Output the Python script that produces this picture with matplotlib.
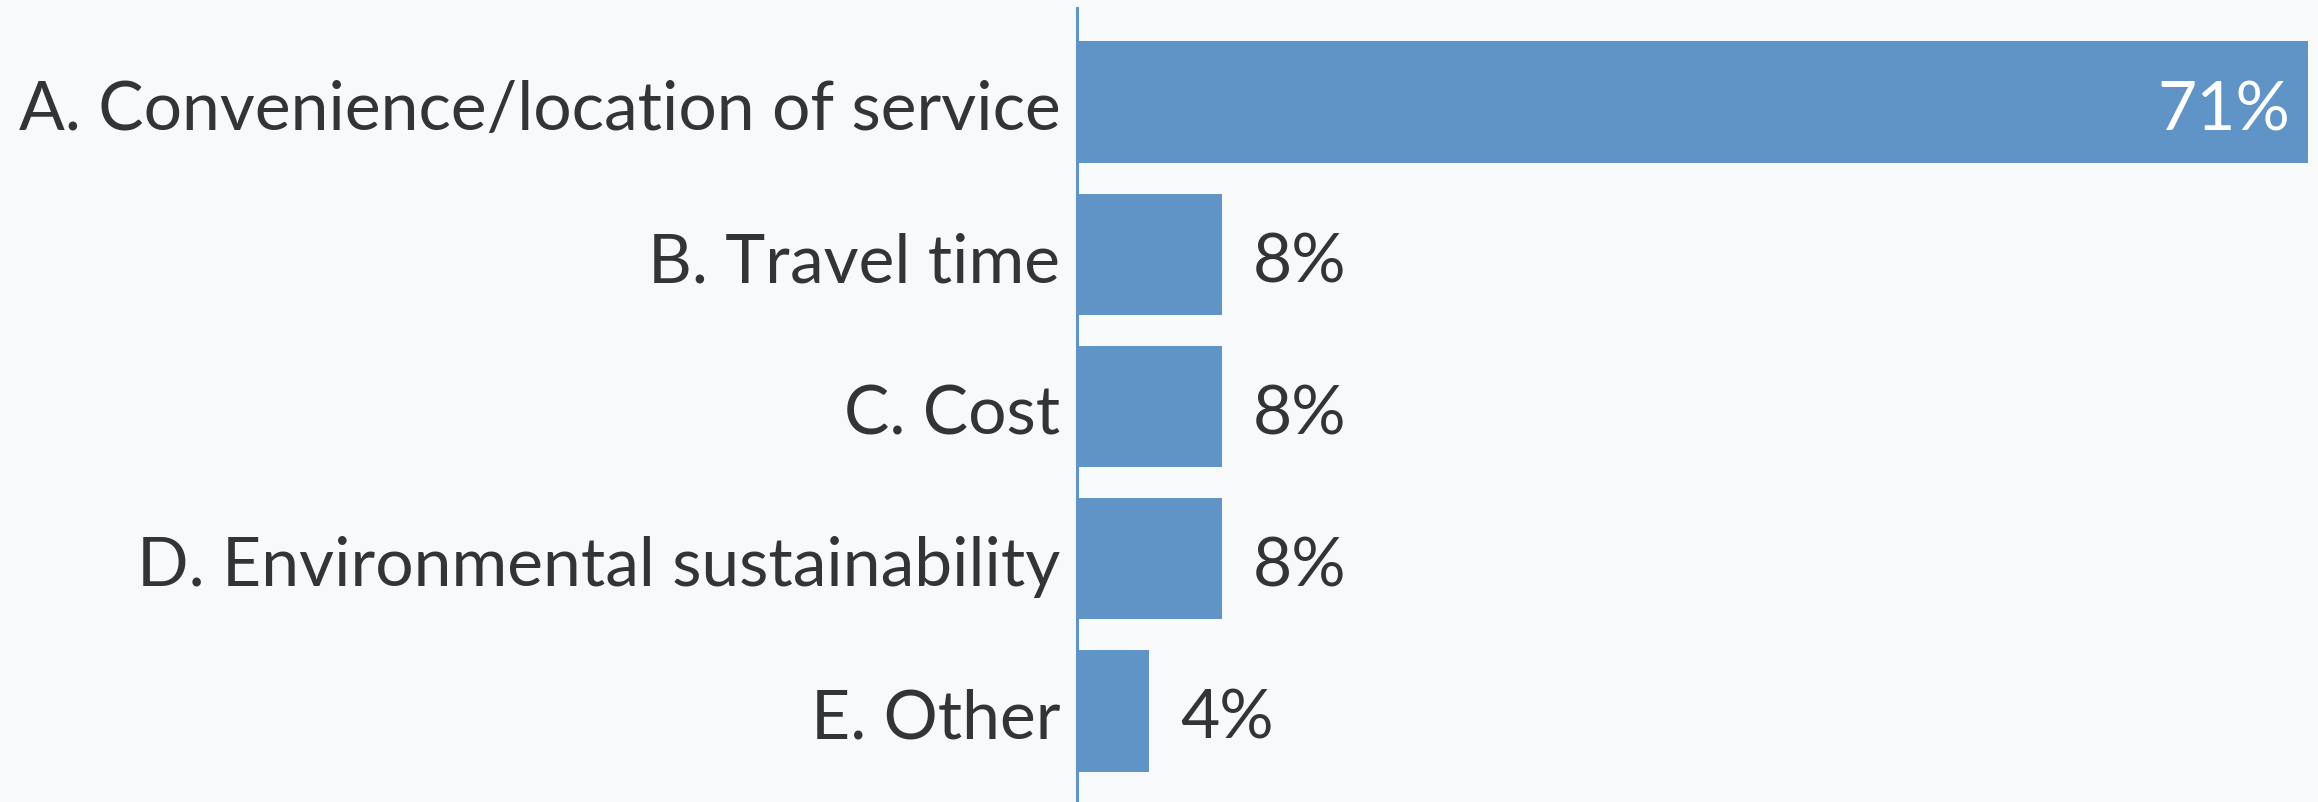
import matplotlib
matplotlib.use('Agg')
import matplotlib.pyplot as plt
import matplotlib.transforms as mtransforms

categories = ['A. Convenience/location of service', 'B. Travel time', 'C. Cost',
              'D. Environmental sustainability', 'E. Other']
counts = [17, 2, 2, 2, 1]
total = sum(counts)
shares = [100 * c / total for c in counts]
value_labels = ['71%', '8%', '8%', '8%', '4%']

bg = '#f8f9fb'
bar_color = '#6094c6'
text_color = '#333438'

plt.rcParams['font.family'] = ['Lato', 'DejaVu Sans']

W, H, dpi = 2318, 802, 100
fig = plt.figure(figsize=(W / dpi, H / dpi), dpi=dpi, facecolor=bg)
ax = fig.add_axes([1077 / W, 0, (2308 - 1077) / W, 1 - 8 / H], facecolor=bg)

y = list(range(len(categories)))
ax.barh(y, shares, height=0.8, color=bar_color)
ax.set_xlim(0, max(shares))
ax.set_ylim(len(categories) - 0.4, -0.62)

ax.set_yticks(y)
ax.set_yticklabels(categories, fontsize=48.8, color=text_color)
ax.tick_params(axis='y', length=0, pad=12)
ax.set_xticks([])
for s in ['top', 'right', 'bottom']:
    ax.spines[s].set_visible(False)
ax.spines['left'].set_color(bar_color)
ax.spines['left'].set_linewidth(2.2)

# nudge labels down a touch
shift = mtransforms.ScaledTranslation(0, -2 / 72, fig.dpi_scale_trans)
for lab in ax.get_yticklabels():
    lab.set_transform(lab.get_transform() + shift)

for yi, v, lab in zip(y, shares, value_labels):
    if v > 30:
        ax.text(v - 1.0, yi, lab, ha='right', va='center_baseline', fontsize=48.8,
                color='white', transform=ax.transData + shift)
    else:
        ax.text(v + 1.8, yi, lab, ha='left', va='center_baseline', fontsize=48.8,
                color=text_color, transform=ax.transData + shift)

fig.savefig('out.png', dpi=dpi, facecolor=bg)
